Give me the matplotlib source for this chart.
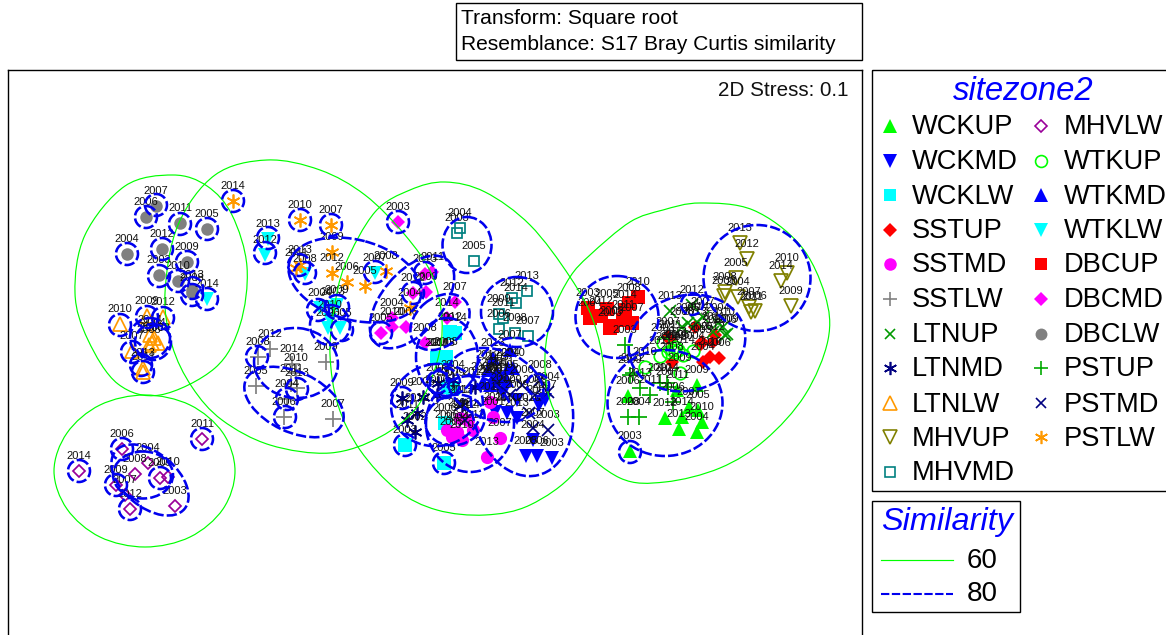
import numpy as np
import matplotlib
matplotlib.use('Agg')
import matplotlib.pyplot as plt
from matplotlib.patches import Ellipse, PathPatch, Rectangle
from matplotlib.path import Path

plt.rcParams['font.family'] = ['Liberation Sans', 'DejaVu Sans']

# sample scores (x, y, year)
WCKUP = [(630,451,'2003'),(628,396,'2006'),(665,418,'2012'),(679,429,'2013'),(697,432,'2004'),(702,422,'2010'),
         (697,385,'2009'),(689,407,'2007'),(698,410,'2005'),(677,390,'2011'),(682,417,'2014')]
WCKMD = [(503,393,'2012'),(517,400,'2009'),(539,405,'2008'),(495,412,'2011'),(507,413,'2010'),(517,418,'2013'),
         (533,440,'2004'),(526,456,'2005'),(537,456,'2006'),(552,458,'2003'),(545,400,'2007')]
WCKLW = [(450,332,'2012'),(455,333,'2014'),(438,358,'2011'),(443,358,'2013'),(448,387,'2007'),(453,388,'2009'),
         (445,423,'2006'),(405,445,'2003'),(444,463,'2005'),(437,358,'2010'),(446,357,'2008')]
SSTUP = [(668,337,'2007'),(695,327,'2013'),(702,342,'2005'),(713,342,'2012'),(710,357,'2010'),(703,362,'2004'),
         (719,358,'2006'),(672,362,'2008'),(715,335,'2009'),(700,345,'2003'),(670,340,'2011')]
SSTMD = [(487,457,'2013'),(500,438,'2007'),(493,417,'2001'),(462,440,'2010'),(452,437,'2005'),(447,430,'2006'),
         (457,432,'2004'),(468,420,'2014'),(473,430,'2012'),(460,418,'2008'),(490,402,'2011')]
SSTLW = [(270,349,'2012'),(258,357,'2008'),(292,364,'2014'),(296,373,'2010'),(291,384,'2011'),(297,388,'2013'),
         (287,399,'2004'),(326,362,'2009'),(256,386,'2005'),(284,417,'2006'),(333,419,'2007')]
LTNUP = [(670,311,'2013'),(692,305,'2012'),(688,323,'2005'),(713,332,'2011'),(723,327,'2010'),(727,334,'2009'),
         (725,335,'2006'),(703,317,'2007'),(718,323,'2004'),(682,327,'2008'),(697,322,'2014')]
LTNMD = [(402,398,'2009'),(417,413,'2010'),(407,420,'2011'),(415,432,'2002'),(423,397,'2005'),(438,383,'2008'),
         (437,395,'2006'),(453,380,'2004'),(475,387,'2012'),(497,385,'2007'),(462,405,'2013')]
LTNLW = [(120,324,'2010'),(147,316,'2009'),(163,317,'2012'),(150,335,'2014'),(149,345,'2005'),(158,343,'2008'),
         (132,351,'2007'),(143,368,'2013'),(143,372,'2011'),(154,338,'2004'),(152,343,'2006')]
MHVUP = [(740,243,'2013'),(747,259,'2012'),(736,278,'2005'),(725,292,'2008'),(724,296,'2003'),(738,297,'2004'),
         (749,307,'2007'),(755,311,'2006'),(751,312,'2011'),(781,281,'2014'),(787,273,'2010'),(791,306,'2009')]
MHVMD = [(460,228,'2004'),(457,233,'2003'),(474,261,'2005'),(527,291,'2013'),(512,298,'2012'),(516,303,'2014'),
         (499,314,'2009'),(503,318,'2011'),(499,329,'2006'),(515,333,'2008'),(528,336,'2007')]
MHVLW = [(79,471,'2014'),(202,439,'2011'),(122,449,'2006'),(148,463,'2004'),(135,474,'2008'),(116,485,'2009'),
         (125,495,'2007'),(160,478,'2005'),(168,477,'2010'),(130,509,'2012'),(175,506,'2003')]
WTKUP = [(660,356,'2011'),(675,347,'2013'),(675,352,'2005'),(693,351,'2004'),(645,367,'2010'),(680,373,'2009'),
         (663,343,'2003'),(672,350,'2012'),(678,350,'2006'),(668,352,'2007'),(683,355,'2014')]
WTKMD = [(510,350,'2007'),(493,358,'2013'),(508,368,'2004'),(488,370,'2012'),(493,378,'2014'),(483,382,'2009'),
         (502,377,'2011'),(513,368,'2010'),(507,380,'2005'),(497,372,'2003'),(490,385,'2006')]
WTKLW = [(207,299,'2014'),(268,239,'2013'),(265,255,'2012'),(305,274,'2008'),(320,308,'2004'),(337,305,'2009'),
         (330,320,'2010'),(328,328,'2006'),(340,328,'2005'),(375,273,'2007'),(333,307,'2003')]
DBCUP = [(588,308,'2003'),(590,318,'2004'),(601,316,'2012'),(607,309,'2005'),(610,328,'2006'),(623,320,'2011'),
         (632,323,'2007'),(638,297,'2010'),(629,303,'2008'),(625,310,'2014'),(612,326,'2009')]
DBCMD = [(398,222,'2003'),(432,272,'2011'),(425,274,'2013'),(413,293,'2012'),(426,292,'2009'),(455,302,'2007'),
         (392,318,'2004'),(392,327,'2010'),(406,327,'2006'),(381,333,'2005'),(425,343,'2008'),(447,318,'2014')]
DBCLW = [(156,206,'2007'),(146,217,'2006'),(180,223,'2011'),(207,229,'2005'),(127,254,'2004'),(162,249,'2012'),
         (187,262,'2009'),(159,275,'2003'),(178,281,'2010'),(192,290,'2013'),(192,293,'2008')]
PSTUP = [(625,345,'2003'),(628,417,'2008'),(639,417,'2004'),(640,388,'2013'),(650,395,'2011'),(660,383,'2010'),
         (668,387,'2007'),(633,373,'2012'),(673,402,'2006'),(667,383,'2014'),(630,375,'2009')]
PSTMD = [(533,428,'2007'),(548,430,'2003'),(529,413,'2010'),(540,380,'2008'),(548,392,'2004'),(522,385,'2006'),
         (497,383,'2011'),(460,405,'2013'),(465,420,'2012'),(510,395,'2009'),(535,395,'2005')]
PSTLW = [(233,201,'2014'),(300,220,'2010'),(331,225,'2007'),(332,252,'2009'),(332,273,'2012'),(347,282,'2006'),
         (365,286,'2005'),(386,271,'2008'),(300,265,'2013'),(296,268,'2011'),(410,308,'2004')]

# 60% contours, read as outline points
outline_left = [(173,175),(207,186),(232,215),(247,267),(240,325),(215,368),(160,395),(118,384),(88,340),(75,293),(85,235),(125,186)]
outline_bottom = [(145,395),(190,405),(223,433),(235,471),(223,509),(190,537),(145,547),(100,537),(67,509),(54,471),(67,433),(100,405)]
outline_mid = [(165,293),(172,345),(192,387),(222,420),(270,445),(330,453),(380,437),(417,407),(437,362),(442,320),
               (432,275),(405,235),(365,195),(320,170),(267,160),(215,175),(178,225)]
outline_centre = [(345,265),(375,212),(410,190),(445,182),(485,192),(530,225),(570,277),(593,320),(604,370),(602,420),
                  (575,472),(530,505),(485,515),(437,510),(397,490),(360,450),(338,405),(330,355),(334,310)]
outline_right = [(590,255),(630,222),(663,210),(700,203),(753,210),(800,245),(825,295),(828,340),(805,395),(765,440),
                 (720,468),(665,482),(620,478),(573,440),(550,400),(545,355),(553,312),(570,277)]

# 80% contours: single samples, then (cx, cy, width, height, angle)
rings_80 = [(156,205),(146,217),(180,224),(207,229),(127,254),(162,249),(187,262),(159,276),(178,281),(192,288),(192,295),
            (207,299),(268,238),(265,253),(120,325),(147,317),(163,318),(132,352),(141,365),(143,372),
            (233,201),(300,220),(331,225),(299,265),(305,273),(375,272),(398,222),(381,333),(425,273),(413,293),
            (257,357),(297,389),(287,399),(285,417),(318,310),(342,330),(402,398),(405,445),(444,463),(438,382),(538,385),
            (692,304),(630,452),(79,471),(202,439),(122,449),(116,485),(130,509),(160,478)]
ellipses_80 = [(355,280,136,80,15),(412,302,110,60,-50),(440,322,66,48,-40),(447,357,62,78,0),
               (296,363,84,70,5),(294,402,106,60,25),(330,325,40,40,0),(337,307,24,24,0),
               (467,245,49,56,0),(517,312,72,70,0),(522,407,140,100,77),(470,424,88,96,0),(437,405,92,82,-10),
               (495,385,100,70,20),(455,420,60,50,-15),(445,383,30,30,0),
               (617,317,83,82,0),(687,343,118,95,-15),(665,403,115,106,0),(757,278,107,106,0),
               (150,338,40,40,0),(153,342,36,36,0),(143,475,60,47,0),(150,480,90,54,40)]

col1 = ['WCKUP','WCKMD','WCKLW','SSTUP','SSTMD','SSTLW','LTNUP','LTNMD','LTNLW','MHVUP','MHVMD']
col2 = ['MHVLW','WTKUP','WTKMD','WTKLW','DBCUP','DBCMD','DBCLW','PSTUP','PSTMD','PSTLW']
similarity = ['60','80']

series = dict(WCKUP=WCKUP, WCKMD=WCKMD, WCKLW=WCKLW, SSTUP=SSTUP, SSTMD=SSTMD, SSTLW=SSTLW, LTNUP=LTNUP,
              LTNMD=LTNMD, LTNLW=LTNLW, MHVUP=MHVUP, MHVMD=MHVMD, MHVLW=MHVLW, WTKUP=WTKUP, WTKMD=WTKMD,
              WTKLW=WTKLW, DBCUP=DBCUP, DBCMD=DBCMD, DBCLW=DBCLW, PSTUP=PSTUP, PSTMD=PSTMD, PSTLW=PSTLW)

STAR = (6, 2, 0)
# marker, colour, filled, size in points
styles = {
    'WCKUP': ('^', '#00ff00', True, 10.5), 'WCKMD': ('v', '#0000ff', True, 10.5), 'WCKLW': ('s', '#00ffff', True, 9.5),
    'SSTUP': ('D', '#ff0000', True, 7.5), 'SSTMD': ('o', '#ff00ff', True, 9.5), 'SSTLW': ('+', '#808080', False, 11),
    'LTNUP': ('x', '#009900', False, 8), 'LTNMD': (STAR, '#000080', False, 10), 'LTNLW': ('^', '#ff9900', False, 10),
    'MHVUP': ('v', '#808000', False, 10), 'MHVMD': ('s', '#008080', False, 7), 'MHVLW': ('D', '#990099', False, 6.5),
    'WTKUP': ('o', '#00ff00', False, 9), 'WTKMD': ('^', '#0000ff', True, 10.5), 'WTKLW': ('v', '#00ffff', True, 10.5),
    'DBCUP': ('s', '#ff0000', True, 9.5), 'DBCMD': ('D', '#ff00ff', True, 7.5), 'DBCLW': ('o', '#808080', True, 9),
    'PSTUP': ('+', '#00aa00', False, 11), 'PSTMD': ('x', '#000080', False, 8), 'PSTLW': (STAR, '#ff9900', False, 10),
}

def closed_curve(pts):
    # smooth closed outline through the read points
    pts = np.array(pts, dtype=float)
    n = len(pts)
    verts = [pts[0]]
    codes = [Path.MOVETO]
    for i in range(n):
        p0, p1, p2, p3 = pts[i-1], pts[i], pts[(i+1) % n], pts[(i+2) % n]
        verts += [p1 + (p2-p0)/6, p2 - (p3-p1)/6, p2]
        codes += [Path.CURVE4] * 3
    return Path(verts, codes)

def draw_marker(ax, x, y, name, scale=1.0):
    m, c, filled, s = styles[name]
    ax.plot(x, y, linestyle='none', marker=m, markersize=s*scale, markeredgewidth=1.25*scale if not filled else 0,
            markeredgecolor=c, markerfacecolor=c if filled else 'none', zorder=3, clip_on=False)

fig = plt.figure(figsize=(11.66, 6.35), dpi=100)

ax = fig.add_axes([8/1166, 0, 854/1166, 565/635])
ax.set_xlim(8, 862)
ax.set_ylim(635, 70)
ax.set_xticks([])
ax.set_yticks([])
ax.spines['bottom'].set_visible(False)
for s in ['left', 'top', 'right']:
    ax.spines[s].set_linewidth(1.0)

for name, pts in series.items():
    xs = [p[0] for p in pts]
    ys = [p[1] for p in pts]
    draw_marker(ax, xs, ys, name)
    for x, y, year in pts:
        ax.annotate(year, (x, y), xytext=(0, 11), textcoords='offset points', ha='center', va='center',
                    fontsize=8, color='#111111', zorder=4)

for pts in [outline_left, outline_bottom, outline_mid, outline_centre, outline_right]:
    ax.add_patch(PathPatch(closed_curve(pts), fill=False, edgecolor='#00ff00', linewidth=0.85, zorder=5))

dash = (0, (4.0, 1.2))
for x, y in rings_80:
    ax.add_patch(Ellipse((x, y), 22, 22, fill=False, edgecolor='#0000ee', linewidth=1.85, linestyle=dash, zorder=6))
for cx, cy, w, h, ang in ellipses_80:
    ax.add_patch(Ellipse((cx, cy), w, h, angle=ang, fill=False, edgecolor='#0000ee', linewidth=1.85, linestyle=dash, zorder=6))

ax.text(849, 90, '2D Stress: 0.1', ha='right', va='center', fontsize=14.9, color='#111111')

# boxes and legends around the plot, in the same pixel units
lg = fig.add_axes([0, 0, 1, 1], facecolor='none')
lg.set_xlim(0, 1166)
lg.set_ylim(635, 0)
lg.axis('off')

lg.add_patch(Rectangle((456, 3), 406, 57, fill=False, edgecolor='black', linewidth=1.0))
lg.text(461, 18, 'Transform: Square root', va='center', fontsize=15.1)
lg.text(461, 45, 'Resemblance: S17 Bray Curtis similarity', va='center', fontsize=15.1)

lg.add_patch(Rectangle((872, 70), 320, 421, fill=False, edgecolor='black', linewidth=1.0, clip_on=True))
lg.text(1023, 91, 'sitezone2', ha='center', va='center', fontsize=23.7, style='italic', color='#0000ff')
row_y = [126, 160.5, 195, 230, 264, 298.5, 334, 368, 403, 437, 472]
for names, mx, tx in [(col1, 890, 912), (col2, 1041, 1064)]:
    for name, y in zip(names, row_y):
        draw_marker(lg, [mx], [y], name, scale=0.95)
        lg.text(tx, y+1.5, name, va='center', fontsize=19.6, color='black')

lg.add_patch(Rectangle((872, 501), 148, 111, fill=False, edgecolor='black', linewidth=1.0))
lg.text(947, 522, 'Similarity', ha='center', va='center', fontsize=23.4, style='italic', color='#0000ff')
lg.plot([881, 953], [560, 560], color='#00ff00', linewidth=0.85)
lg.plot([881, 953], [594, 594], color='#0000ee', linewidth=1.5, linestyle=dash)
lg.text(967, 561, similarity[0], va='center', fontsize=20)
lg.text(967, 594, similarity[1], va='center', fontsize=20)

fig.savefig('out.png', dpi=100)
